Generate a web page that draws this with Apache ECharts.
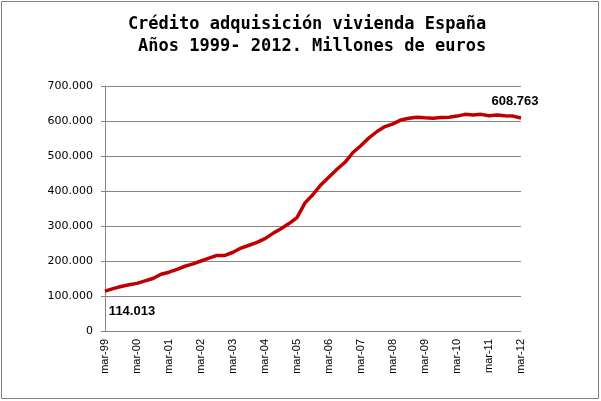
<!DOCTYPE html>
<html>
<head>
<meta charset="utf-8">
<script src="https://cdn.jsdelivr.net/npm/echarts@6/dist/echarts.min.js"></script>
<style>
html,body{margin:0;padding:0;background:#fff;}
#chart{width:601px;height:401px;}
</style>
</head>
<body>
<div id="chart"></div>
<script>
// Quarterly categories from mar-99 to mar-12
const years = ['99','00','01','02','03','04','05','06','07','08','09','10','11','12'];
const quarterMonths = ['mar','jun','sep','dic'];
const categories = [];
years.forEach(function(y, yi){
  quarterMonths.forEach(function(m, mi){
    if (yi === years.length - 1 && mi > 0) return;
    categories.push(m + '-' + y);
  });
});
// Mortgage credit, millions of euros
const credit = [
  114013, 121000, 127000, 132000, 136000, 143000, 150000, 162000,
  168000, 176000, 185000, 192000, 200000, 208000, 216000, 216000,
  225000, 237000, 245000, 253000, 264000, 279000, 292000, 307000,
  324000, 366000, 390000, 418000, 440000, 462000, 482000, 510000,
  530000, 552000, 570000, 584000, 592000, 603000, 608000, 611000,
  609000, 608000, 610000, 611000, 614000, 619000, 617000, 619000,
  615000, 617000, 615000, 614000, 608763
];
const yTicks = [0, 100000, 200000, 300000, 400000, 500000, 600000, 700000];
const titleLines = ['Crédito adquisición vivienda España', ' Años 1999- 2012. Millones de euros'];

function fmt(v){
  return String(Math.round(v)).replace(/\B(?=(\d{3})+(?!\d))/g, '.');
}

const seriesData = credit.map(function(v, i){
  if (i === 0) {
    return {value: v, label: {show: true, offset: [27, 20]}};
  }
  if (i === credit.length - 1) {
    return {value: v, label: {show: true, offset: [-6, -17]}};
  }
  return v;
});

const chart = echarts.init(document.getElementById('chart'), null, {renderer: 'canvas'});
chart.setOption({
  animation: false,
  backgroundColor: '#ffffff',
  graphic: [
    {type: 'rect', shape: {x: 1.5, y: 1.5, width: 597, height: 397},
     style: {fill: 'none', stroke: '#808080', lineWidth: 1}, silent: true},
    {type: 'text', x: 307, y: 14,
     style: {text: titleLines.join('\n'), align: 'center', verticalAlign: 'top',
       font: 'bold 17px "DejaVu Sans Mono", monospace', lineHeight: 22, fill: '#000'}}
  ],
  grid: {left: 105, right: 80, top: 86, bottom: 70},
  xAxis: {
    type: 'category',
    data: categories,
    boundaryGap: false,
    axisLine: {lineStyle: {color: '#868686', width: 1}},
    axisTick: {show: false},
    axisLabel: {
      interval: 3, rotate: 90, margin: 8,
      fontFamily: '"Liberation Sans", Arial, sans-serif', fontSize: 11, color: '#000'
    },
    splitLine: {show: false}
  },
  yAxis: {
    type: 'value',
    min: yTicks[0], max: yTicks[yTicks.length - 1], interval: 100000,
    axisLine: {show: true, lineStyle: {color: '#868686', width: 1}},
    axisTick: {show: true, length: 4, lineStyle: {color: '#868686'}},
    axisLabel: {
      margin: 12, formatter: fmt,
      fontFamily: '"DejaVu Sans", Verdana, sans-serif', fontSize: 11, color: '#000'
    },
    splitLine: {show: true, lineStyle: {color: '#868686', width: 1}}
  },
  series: [{
    type: 'line',
    data: seriesData,
    showSymbol: true,
    symbol: 'circle',
    symbolSize: 0,
    lineStyle: {color: '#C00000', width: 3.5},
    itemStyle: {color: '#C00000'},
    label: {
      show: false, position: 'inside', formatter: function(p){ return fmt(p.value); },
      fontFamily: '"Liberation Sans", Arial, sans-serif', fontWeight: 'bold', fontSize: 13,
      color: '#000', align: 'center', verticalAlign: 'middle'
    },
    emphasis: {disabled: true}
  }]
});
</script>
</body>
</html>
